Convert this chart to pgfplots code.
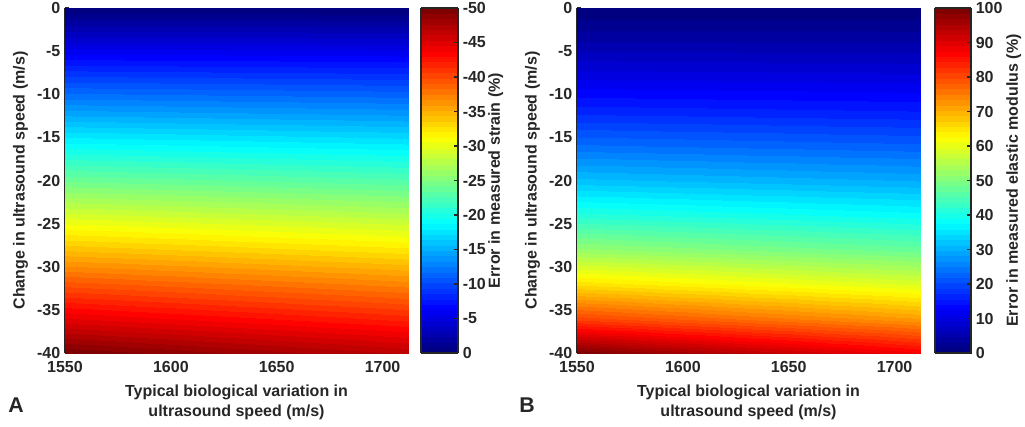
\documentclass[border=0pt]{standalone}
\usepackage{fontspec}
\setmainfont{Liberation Sans}
\usepackage{pgfplots}
\usepackage{pgfplotstable}
\pgfplotsset{compat=1.18}

% Error in measured strain (%) on a grid: x = speed (m/s), y = change (m/s)
\pgfplotstableread{
x y e
1550 0 0
1590 0 0
1630 0 0
1670 0 0
1712 0 0
1550 -4 -4.69
1590 -4 -4.65
1630 -4 -4.60
1670 -4 -4.55
1712 -4 -4.50
1550 -8 -9.45
1590 -8 -9.35
1630 -8 -9.25
1670 -8 -9.15
1712 -8 -9.04
1550 -12 -14.28
1590 -12 -14.12
1630 -12 -13.95
1670 -12 -13.79
1712 -12 -13.61
1550 -16 -19.18
1590 -16 -18.94
1630 -16 -18.71
1670 -16 -18.47
1712 -16 -18.23
1550 -20 -24.14
1590 -20 -23.83
1630 -20 -23.52
1670 -20 -23.21
1712 -20 -22.88
1550 -24 -29.17
1590 -24 -28.78
1630 -24 -28.38
1670 -24 -27.99
1712 -24 -27.57
1550 -28 -34.27
1590 -28 -33.78
1630 -28 -33.30
1670 -28 -32.81
1712 -28 -32.30
1550 -32 -39.43
1590 -32 -38.85
1630 -32 -38.26
1670 -32 -37.68
1712 -32 -37.07
1550 -36 -44.66
1590 -36 -43.97
1630 -36 -43.29
1670 -36 -42.60
1712 -36 -41.88
1550 -40 -49.96
1590 -40 -49.16
1630 -40 -48.36
1670 -40 -47.56
1712 -40 -46.72
}\straintab

% Error in measured elastic modulus (%)
\pgfplotstableread{
x y m
1550 0 0
1590 0 0
1630 0 0
1670 0 0
1712 0 0
1550 -4 4.93
1590 -4 4.87
1630 -4 4.82
1670 -4 4.77
1712 -4 4.71
1550 -8 10.44
1590 -8 10.32
1630 -8 10.19
1670 -8 10.07
1712 -8 9.93
1550 -12 16.66
1590 -12 16.44
1630 -12 16.21
1670 -12 15.99
1712 -12 15.76
1550 -16 23.73
1590 -16 23.37
1630 -16 23.01
1670 -16 22.66
1712 -16 22.29
1550 -20 31.82
1590 -20 31.28
1630 -20 30.75
1670 -20 30.22
1712 -20 29.67
1550 -24 41.18
1590 -24 40.40
1630 -24 39.63
1670 -24 38.86
1712 -24 38.07
1550 -28 52.13
1590 -28 51.01
1630 -28 49.92
1670 -28 48.83
1712 -28 47.71
1550 -32 65.10
1590 -32 63.53
1630 -32 61.98
1670 -32 60.47
1712 -32 58.90
1550 -36 80.71
1590 -36 78.49
1630 -36 76.32
1670 -36 74.21
1712 -36 72.04
1550 -40 99.84
1590 -40 96.70
1630 -40 93.65
1670 -40 90.70
1712 -40 87.69
}\modtab

\pgfplotsset{
  colormap={myjet}{rgb255(0cm)=(0,0,128) rgb255(1cm)=(0,0,255)
    rgb255(3cm)=(0,255,255) rgb255(5cm)=(255,255,0)
    rgb255(7cm)=(255,0,0) rgb255(8cm)=(128,0,0)},
  colormap={jet64}{samples of colormap=(64 of myjet)},
}

\pgfplotsset{
  every axis/.append style={
    tick label style={font=\bfseries\fontsize{12}{14}\selectfont, color=black!85},
    label style={font=\bfseries\fontsize{12}{15}\selectfont, color=black!85},
  },
  heat/.style={
    scale only axis, width=257.25pt, height=258.75pt,
    xmin=1550, xmax=1712, ymin=-40, ymax=0,
    axis x line*=bottom, axis y line*=left,
    axis line style={line width=0.9pt, black!85},
    tick style={line width=0.8pt, black!85},
    tick align=inside, major tick length=3pt,
    xtick={1550,1600,1650,1700}, xticklabels={1550,1600,1650,1700},
    xticklabel style={yshift=-3pt},
    ytick={-40,-35,...,0},
    yticklabels={-40,-35,-30,-25,-20,-15,-10,-5,0},
    xlabel={Typical biological variation in\\ultrasound speed (m/s)},
    xlabel style={align=center, yshift=-2pt},
    ylabel={Change in ultrasound speed (m/s)},
    colormap name=jet64,
    colormap access=piecewise constant,
    colorbar,
  },
}

\begin{document}
\begin{tikzpicture}
\begin{axis}[heat,
  at={(0pt,0pt)},
  point meta min=0, point meta max=50,
  colorbar style={
    at={(parent axis.north east)}, anchor=north west, xshift=1.25pt,
    width=27.75pt,
    ytick={0,5,...,50},
    yticklabels={0,-5,-10,-15,-20,-25,-30,-35,-40,-45,-50},
    ytick pos=right,
    tick align=inside, major tick length=3pt,
    axis line style={line width=1.1pt, black!85},
    tick style={line width=0.8pt, black!85},
    ylabel={Error in measured strain (\%)},
    ylabel shift=-5pt,
  },
]
\addplot[surf, shader=interp, mesh/rows=11, mesh/cols=5,
  point meta={abs(\thisrow{e})}] table[x=x, y=y] {\straintab};
\end{axis}

\begin{axis}[heat,
  at={(384pt,0pt)},
  point meta min=0, point meta max=100,
  colorbar style={
    at={(parent axis.north east)}, anchor=north west, xshift=2.75pt,
    width=27pt,
    ytick={0,10,...,100},
    yticklabels={0,10,20,30,40,50,60,70,80,90,100},
    ytick pos=right,
    tick align=inside, major tick length=3pt,
    axis line style={line width=1.1pt, black!85},
    tick style={line width=0.8pt, black!85},
    ylabel={Error in measured elastic modulus (\%)},
    ylabel shift=-4pt,
  },
]
\addplot[surf, shader=interp, mesh/rows=11, mesh/cols=5,
  point meta=\thisrow{m}] table[x=x, y=y] {\modtab};
\end{axis}

\node[font=\bfseries\fontsize{16}{16}\selectfont, color=black!85] at (-36.75pt,-39pt) {A};
\node[font=\bfseries\fontsize{16}{16}\selectfont, color=black!85] at (346.5pt,-39pt) {B};
\pgfresetboundingbox
\path[use as bounding box] (-48.75pt,-54.75pt) rectangle (720pt,264.75pt);
\end{tikzpicture}
\end{document}
